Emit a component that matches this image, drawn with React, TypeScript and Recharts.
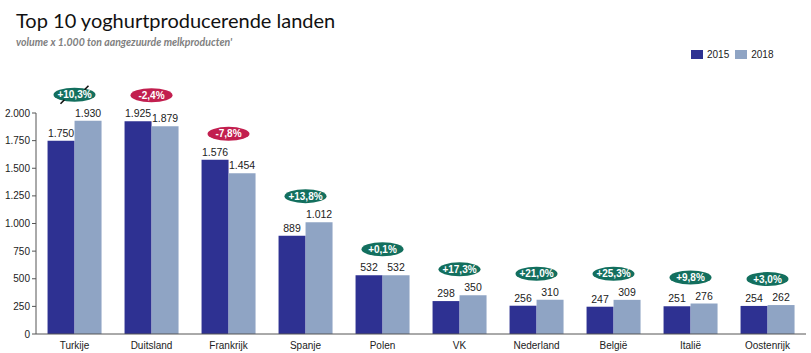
import { ComposedChart, Bar, Line, XAxis, YAxis, LabelList } from "recharts";

const countries = ["Turkije", "Duitsland", "Frankrijk", "Spanje", "Polen", "VK", "Nederland", "België", "Italië", "Oostenrijk"];
const volume2015 = [1750, 1925, 1576, 889, 532, 298, 256, 247, 251, 254];
const volume2018 = [1930, 1879, 1454, 1012, 532, 350, 310, 309, 276, 262];
const changeLabels = ["+10,3%", "-2,4%", "-7,8%", "+13,8%", "+0,1%", "+17,3%", "+21,0%", "+25,3%", "+9,8%", "+3,0%"];
const yTicks = [0, 250, 500, 750, 1000, 1250, 1500, 1750, 2000];

const DARK = "#2E3192";
const LIGHT = "#8FA4C4";
const GREEN = "#136F5E";
const RED = "#C21F4F";
const FONT = "'Liberation Sans', Arial, sans-serif";

const data = countries.map((c, i) => ({
  country: c,
  y2015: volume2015[i],
  y2018: volume2018[i],
  peak: Math.max(volume2015[i], volume2018[i]),
  change: changeLabels[i],
}));

// 1750 -> "1.750"
const fmt = (v: number) => String(v).replace(/\B(?=(\d{3})+(?!\d))/g, ".");

const Badge = (props: any) => {
  const { cx, cy, payload, index } = props;
  if (cx == null || cy == null) return null;
  const neg = payload.change.startsWith("-");
  const y = cy - 26;
  return (
    <g key={`badge-${index}`}>
      <ellipse cx={cx} cy={y} rx={21} ry={7} fill={neg ? RED : GREEN} />
      {index === 0 && (
        <>
          <line x1={cx + 10} y1={y - 5} x2={cx + 14} y2={y - 9} stroke="#111" strokeWidth={1.6} />
          <line x1={cx - 10} y1={y + 5} x2={cx - 14} y2={y + 9} stroke="#111" strokeWidth={1.6} />
        </>
      )}
      <text x={cx} y={y + 3.5} textAnchor="middle" fill="#fff" fontSize={10} fontWeight="bold" fontFamily={FONT}>
        {payload.change}
      </text>
    </g>
  );
};

export default function App() {
  return (
    <div style={{ position: "absolute", left: 0, top: 0, width: 811, height: 353, background: "#fff" }}>
      <div style={{ position: "absolute", left: 16, top: 8, fontFamily: "Lato, 'Open Sans', sans-serif", fontSize: 20, color: "#111", whiteSpace: "nowrap" }}>
        Top 10 yoghurtproducerende landen
      </div>
      <div style={{ position: "absolute", left: 16, top: 36, fontFamily: "Lato, 'Open Sans', sans-serif", fontSize: 10.5, fontStyle: "italic", fontWeight: "bold", color: "#808080", whiteSpace: "nowrap" }}>
        volume x 1.000 ton aangezuurde melkproducten'
      </div>
      <div style={{ position: "absolute", left: 691, top: 49, display: "flex", alignItems: "center", fontSize: 10, color: "#222", fontFamily: FONT }}>
        <span style={{ width: 12, height: 9, background: DARK, display: "inline-block", marginRight: 4 }} />
        <span style={{ marginRight: 6 }}>2015</span>
        <span style={{ width: 12, height: 9, background: LIGHT, display: "inline-block", marginRight: 4 }} />
        <span>2018</span>
      </div>
      <ComposedChart width={811} height={353} data={data} margin={{ top: 113, right: 5, bottom: 0, left: 0 }}
        barCategoryGap="15%" barGap={0} style={{ position: "absolute", left: 0, top: 0 }}>
        <XAxis dataKey="country" height={19} tickLine={false} axisLine={{ stroke: "#555" }}
          tick={{ fontSize: 10, fill: "#222", fontFamily: FONT }} tickMargin={2} interval={0} />
        <YAxis width={36} domain={[0, 2000]} ticks={yTicks} tickFormatter={fmt} axisLine={{ stroke: "#555" }}
          tickLine={{ stroke: "#555" }} tickSize={4} tickMargin={2}
          tick={{ fontSize: 10, fill: "#222", fontFamily: FONT }} />
        <Bar dataKey="y2015" name="2015" fill={DARK} isAnimationActive={false}>
          <LabelList dataKey="y2015" position="top" offset={4} formatter={(v: any) => fmt(Number(v))}
            style={{ fontSize: 10.5, fill: "#222", fontFamily: FONT }} />
        </Bar>
        <Bar dataKey="y2018" name="2018" fill={LIGHT} isAnimationActive={false}>
          <LabelList dataKey="y2018" position="top" offset={4} formatter={(v: any) => fmt(Number(v))}
            style={{ fontSize: 10.5, fill: "#222", fontFamily: FONT }} />
        </Bar>
        <Line dataKey="peak" stroke="none" dot={Badge} activeDot={false} legendType="none" isAnimationActive={false} />
      </ComposedChart>
    </div>
  );
}
